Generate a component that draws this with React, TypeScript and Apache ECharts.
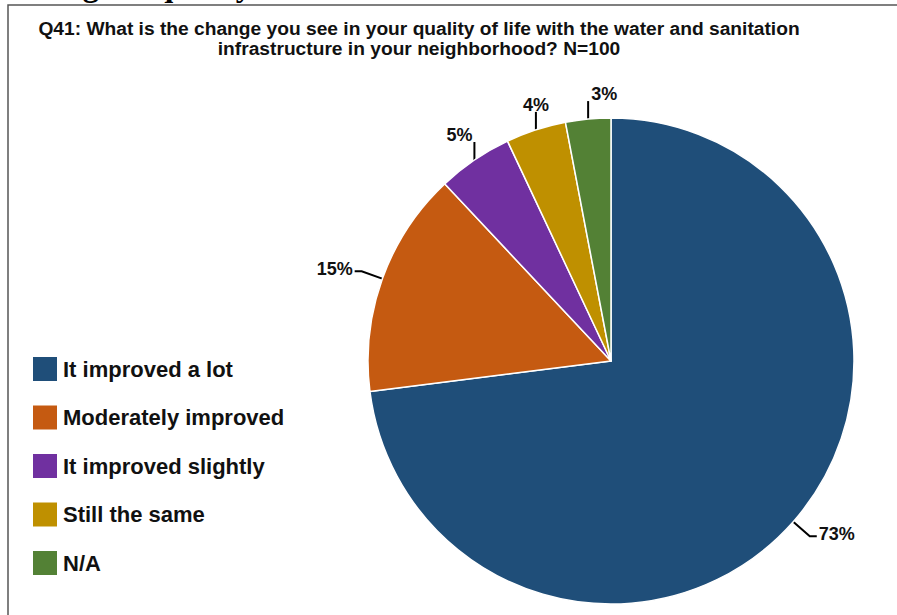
import React, { useEffect, useRef } from "react";
import * as echarts from "echarts";

const categories = ["It improved a lot", "Moderately improved", "It improved slightly", "Still the same", "N/A"];
const values = [73, 15, 5, 4, 3];
const colors = ["#1F4E79", "#C55A11", "#7030A0", "#BF9000", "#538135"];
const titleLines = [
  "Q41: What is the change you see in your quality of life with the water and sanitation",
  "infrastructure in your neighborhood? N=100",
];
const headingFragment = "Change in quality";

const CX = 611;
const CY = 361;
const R = 243;

export default function App() {
  const ref = useRef<HTMLDivElement>(null);
  useEffect(() => {
    document.body.style.margin = "0";
    const chart = echarts.init(ref.current!, undefined, { renderer: "svg" });
    const total = values.reduce((a, b) => a + b, 0);
    const mids: number[] = [];
    let acc = 0;
    values.forEach((v) => {
      mids.push(((acc + v / 2) / total) * Math.PI * 2);
      acc += v;
    });

    const labelLayout = (params: any) => {
      const th = mids[params.dataIndex];
      const s = Math.sin(th);
      const c = -Math.cos(th);
      const ex = CX + R * s;
      const ey = CY + R * c;
      if (-c > 0.8) {
        const x1 = ex;
        const y1 = ey - 18;
        let align = "center";
        let tx = x1;
        if (s < -0.45) {
          align = "right";
          tx = x1 - 2;
        } else if (s > -0.2) {
          align = "left";
          tx = x1 + 3;
        }
        return {
          x: tx,
          y: y1 + 2,
          align,
          verticalAlign: "bottom",
          labelLinePoints: [
            [ex, ey + 2],
            [x1, y1],
            [x1, y1],
          ],
        };
      }
      const x1 = ex + s * 22;
      const y1 = ey + c * 22;
      const side = s >= 0 ? 1 : -1;
      const x2 = x1 + side * 7;
      return {
        x: x2 + side * 2,
        y: y1 - 2,
        align: side > 0 ? "left" : "right",
        verticalAlign: "middle",
        labelLinePoints: [
          [ex - s * 2, ey - c * 2],
          [x1, y1],
          [x2, y1],
        ],
      };
    };

    chart.setOption({
      animation: false,
      backgroundColor: "#ffffff",
      graphic: [
        {
          type: "text",
          x: 8,
          y: 1,
          style: {
            text: headingFragment,
            font: 'bold 32px "Liberation Serif"',
            fill: "#000",
            verticalAlign: "bottom",
          },
        },
        {
          type: "rect",
          shape: { x: 8, y: 5, width: 1200, height: 1200 },
          style: { fill: "#fff", stroke: "#555", lineWidth: 1.5 },
        },
      ],
      title: {
        text: titleLines.join("\n"),
        left: 419,
        top: 18,
        padding: 0,
        textAlign: "center",
        textStyle: {
          fontFamily: "Liberation Sans",
          fontWeight: "bold",
          fontSize: 19.2,
          lineHeight: 20,
          color: "#111",
        },
      },
      legend: {
        orient: "vertical",
        left: 31,
        top: 355,
        padding: 0,
        itemWidth: 26,
        itemHeight: 26,
        itemGap: 20.5,
        icon: "rect",
        data: categories,
        selectedMode: false,
        textStyle: {
          fontFamily: "Liberation Sans",
          fontWeight: "bold",
          fontSize: 22,
          lineHeight: 26,
          color: "#111",
        },
      },
      series: [
        {
          type: "pie",
          center: [CX, CY],
          radius: R,
          startAngle: 90,
          clockwise: true,
          data: categories.map((name, i) => ({ name, value: values[i], itemStyle: { color: colors[i] } })),
          itemStyle: { borderColor: "#fff", borderWidth: 1.5 },
          label: {
            show: true,
            formatter: "{c}%",
            fontFamily: "Liberation Sans",
            fontWeight: "bold",
            fontSize: 18,
            color: "#111",
          },
          labelLine: {
            show: true,
            length: 14,
            length2: 6,
            lineStyle: { color: "#000", width: 2 },
          },
          labelLayout,
          emphasis: { disabled: true },
        },
      ],
    });
    return () => chart.dispose();
  }, []);
  return <div ref={ref} style={{ width: 897, height: 615 }} />;
}
